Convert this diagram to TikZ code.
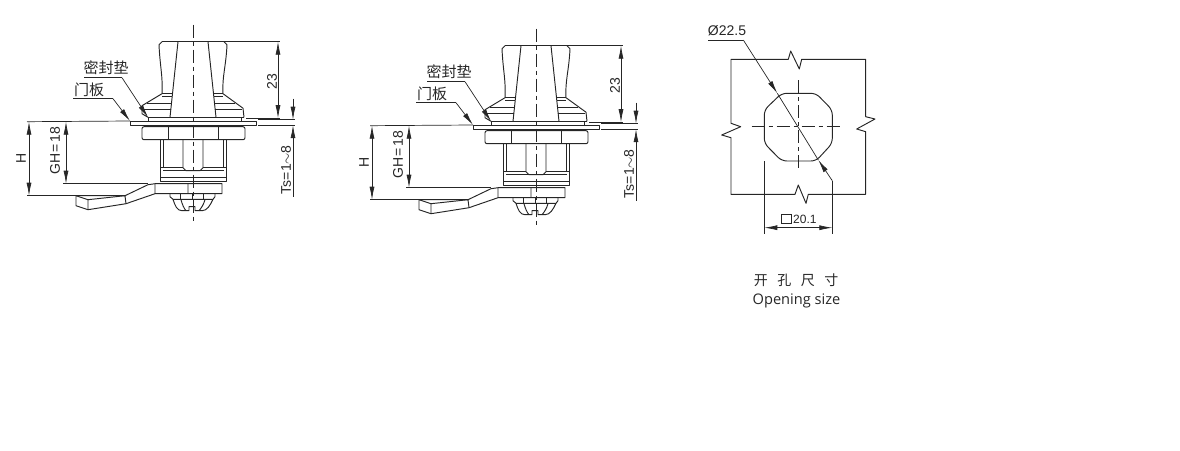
\documentclass[tikz,border=0pt]{standalone}
\usepackage{fontspec}
\setsansfont{Liberation Sans}
\newfontfamily\cjk{Noto Sans CJK SC}
\newfontfamily\captfont{Open Sans}
\usetikzlibrary{arrows.meta}
\definecolor{ink}{HTML}{262626}
\newcommand{\dimfont}{\fontsize{14}{14}\selectfont\sffamily}
\newcommand{\cjkfont}{\fontsize{15}{15}\selectfont\cjk}
\tikzset{
	lockline/.style={draw=ink,line width=.95pt,line join=round},
	thinline/.style={draw=ink,line width=.7pt},
	axisline/.style={draw=ink,line width=.8pt,dash pattern=on 13pt off 4pt on 4pt off 4pt},
	dimline/.style={thinline,{Latex[length=13pt,width=5pt]}-{Latex[length=13pt,width=5pt]}},
	leader/.style={thinline,-{Latex[length=13pt,width=5pt]}},
	dimtext/.style={text=ink,font=\dimfont,inner sep=0pt},
	cjktext/.style={text=ink,font=\cjkfont,inner sep=0pt},
	lock/.pic={
		%handle
		\draw[lockline] (-23,-4.4) -- (-15,-80) (23,-4.4) -- (15,-80);
		\draw[lockline] (-31,-80) -- (31,-80);
		\draw[lockline] (-31,-80) -- (-34,-77) .. controls (-33,-55) and (-30,-45) .. (-31,-28);
		\draw[lockline] (31,-80) -- (34,-77) .. controls (33,-55) and (29,-45) .. (30,-28);
		%flange
		\draw[lockline] (-31,-28) -- (-20,-28) (-31,-25) -- (-21,-25) (30,-28) -- (20,-28) (30,-25) -- (21,-25);
		\draw[lockline] (-31,-28) -- (-51,-16) -- (-51,-8) -- (-45,-4.4) (30,-28) -- (50,-13.5) -- (51,-4.4);
		\draw[lockline] (-46,-18.4) -- (-22,-18.4) (-50,-12.7) -- (-22,-12.7);
		\draw[lockline] (42,-18.4) -- (22,-18.4) (49,-12.7) -- (22,-12.7);
		%gasket and plate
		\draw[lockline] (-45,-4.4) -- (51,-4.4) (-45,-4.4) -- (-45,-.7) (48,-4.4) -- (48,-.7);
		\draw[lockline] (-63,-.7) -- (63,-.7) -- (63,3.5) -- (-63,3.5) -- cycle;
		\coordinate (plate_l) at (-63,-.7);
		\coordinate (gasket_l) at (-45,-4.4);
		%big nut
		\draw[lockline,rounded corners=2pt] (-51,5) rectangle (52,18);
		\draw[lockline] (-25,5) -- (-25,18) (25,5) -- (25,18);
		%small nut
		\draw[lockline] (-33,18) -- (-33,60) -- (33.5,60) -- (33.5,18) (-30,18) -- (-30,46) (30.5,18) -- (30.5,46);
		\draw[lockline] (-10,18) -- (-10,46) -- (-7,49) -- (7,49) -- (10,46) -- (10,18);
		\draw[lockline] (-33,46) -- (-10,46) (10,46) -- (33.5,46) (-30,49) -- (-7,49) (7,49) -- (30.5,49) (-33,56) -- (33.5,56);
		%cam
		\draw[lockline] (-117,74) -- (-68,74) -- (-45,63) -- (-38,62) -- (29,62) -- (29,72) -- (-38,72) -- (-67,82) -- (-105,88) -- (-117,84) -- cycle;
		\draw[lockline] (-38,62) -- (-38,72) (-5,62) -- (-5,72) (-68,74) -- (-67,82) (-105,78) -- (-105,88) (-117,74) -- (-105,78) -- (-68,74);
		%screw
		\draw[lockline] (-23,72) -- (-23,75) -- (-20,77.6) -- (20,77.6) -- (22,75) -- (22,72);
		\draw[lockline] (-12.7,72) -- (-12.7,77.6) (-.3,72) -- (-.3,77.6) (10.3,72) -- (10.3,77.6);
		\draw[lockline] (-20,77.6) .. controls (-18,84) and (-16,89) .. (-11,89) -- (-4,89) -- (-4,85) -- (2,85) -- (2,89) -- (9,89) .. controls (14,89) and (17,84) .. (20,77.6);
		\draw[lockline] (-12,78) .. controls (-11,82) and (-9,87) .. (-7,89) (12,78) .. controls (11,82) and (8,87) .. (6,89);
		\draw[axisline] (0,-97) -- (0,102);
		%extension lines
		\coordinate (H_a) at (-164,0);
		\coordinate (H_b) at (-164,74);
		\coordinate (GH_a) at (-127,0);
		\coordinate (GH_b) at (-127,62);
		\coordinate (h23_a) at (85,-80);
		\coordinate (h23_b) at (85,-3.5);
		\coordinate (Ts_a) at (100,-2);
		\coordinate (Ts_b) at (100,3.5);
		\draw[thinline] (-166,0) -- (plate_l);
		\draw[thinline] (-166,74) -- (-117,74);
		\draw[thinline] (-130,62) -- (-45,62);
		\draw[thinline] (31,-80) -- (87,-80);
		\draw[thinline] (53,-3) -- (87,-3);
		\draw[thinline] (65,-2) -- (102,-2) (65,3.5) -- (102,3.5);
		\draw[dimline] (H_a) -- (H_b);
		\draw[dimline] (GH_a) -- (GH_b);
		\draw[dimline] (h23_a) -- (h23_b);
		\draw[leader] (100,-23) -- (Ts_a);
		\draw[leader] (100,75) -- (Ts_b);
		\node[dimtext,rotate=90] (H_lbl) at (-172,37) {H};
		\node[dimtext,rotate=90] (GH_lbl) at (-138,29) {GH\kern1.5pt=\kern1.5pt18};
		\node[dimtext,rotate=90] (h23_lbl) at (79,-40) {23};
		\node[dimtext,rotate=90] (Ts_lbl) at (93,48) {Ts=1$\sim$8};
		%leaders
		\node[cjktext] (gasket_lbl) at (-87,-54) {密封垫};
		\node[cjktext] (plate_lbl) at (-104,-32) {门板};
		\coordinate (gasket_u) at (-71,-44);
		\coordinate (plate_u) at (-80,-23);
		\draw[thinline] (-109,-44) -- (gasket_u);
		\draw[thinline] (-120,-23) -- (plate_u);
		\draw[leader] (gasket_u) -- (gasket_l);
		\draw[leader] (plate_u) -- (plate_l);
	}
}
\begin{document}
\begin{tikzpicture}[x=1pt,y=-1pt]
	\useasboundingbox (0,0) rectangle (1180,450);
	\pic (one) at (193,121.7) {lock};
	\pic (two) at (536,125.7) {lock};
	%opening
	\draw[lockline] (731,59.3) -- (788.3,59.3) -- (790.7,51) -- (799.3,69) -- (801.7,59.3) -- (865.7,59.3)
		-- (865.7,116.7) -- (875,119) -- (856.7,129) -- (865.7,131.7) -- (865.7,194.3)
		-- (808.3,194.3) -- (806,203.3) -- (798.3,185) -- (795,194.3) -- (731,194.3)
		-- (731,137.7) -- (721.7,135) -- (740.7,126.7) -- (731,123.3) -- cycle;
	\draw[lockline,rounded corners=5pt] (781.7,93.3) -- (816,93.3) -- (832.3,110) -- (832.3,143.3) -- (816,161) -- (781.7,161) -- (764.3,143.3) -- (764.3,110) -- cycle;
	\draw[axisline] (751.7,126.7) -- (841.7,126.7);
	\draw[axisline] (798.3,80) -- (798.3,170);
	\coordinate (dia_start) at (708.3,40);
	\coordinate (dia_bend) at (743.3,40);
	\coordinate (dia_a) at (777.3,93.3);
	\coordinate (dia_b) at (818.3,160);
	\coordinate (dia_end) at (832.3,180.7);
	\draw[thinline] (dia_start) -- (dia_bend);
	\draw[thinline] (dia_a) -- (dia_b);
	\draw[leader] (dia_bend) -- (dia_a);
	\draw[leader] (dia_end) -- (dia_b);
	\coordinate (w_a) at (764.3,227.7);
	\coordinate (w_b) at (832.3,227.7);
	\draw[thinline] (764.3,161) -- (764.3,234);
	\draw[thinline] (dia_end) -- (832.3,234);
	\draw[dimline] (w_a) -- (w_b);
	\node[dimtext] (dia_lbl) at (727,30.5) {Ø22.5};
	\node[draw=ink,line width=.6pt,minimum width=10.5pt,minimum height=9pt,inner sep=0pt] (sq_lbl) at (786.3,218.8) {};
	\node[dimtext,font=\fontsize{12}{12}\selectfont\sffamily,right=0pt] (w_lbl) at (793,219) {20.1};
	\node[cjktext,font=\fontsize{14}{14}\selectfont\cjk] (capt_cn) at (796,280) {开\hspace{9.5pt}孔\hspace{9.5pt}尺\hspace{9.5pt}寸};
	\node[text=ink,font=\fontsize{14.6}{15}\selectfont\captfont,inner sep=0pt] (capt_en) at (796.5,300.5) {Opening size};
\end{tikzpicture}
\end{document}
